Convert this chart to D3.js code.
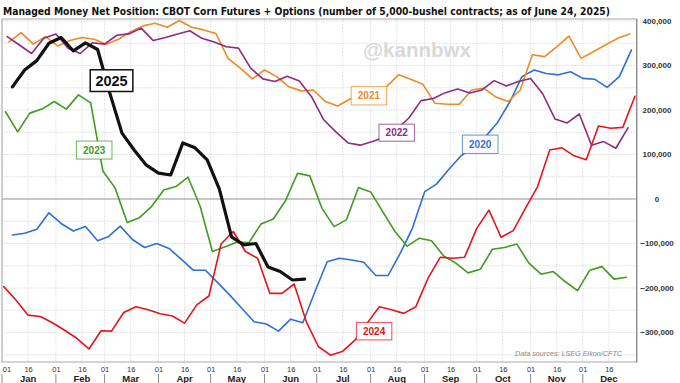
<!DOCTYPE html>
<html><head><meta charset="utf-8">
<script src="https://cdn.jsdelivr.net/npm/d3@7/dist/d3.min.js"></script>
<style>body{margin:0;background:#fff}svg{display:block}</style>
</head><body><svg id="c" width="680" height="383"></svg>
<script>
// ---------------- DATA ----------------
const seriesYears = ["2020", "2021", "2022", "2023", "2024", "2025"];
const firstWeek = ["2020-01-07", "2021-01-05", "2022-01-04", "2023-01-03", "2024-01-02", "2025-01-07"];
// weekly managed money net position, thousands of contracts
const v2020 = [-81,-77,-68,-31,-55,-72,-62,-94,-85,-61,-91,-109,-100,-111,-135,-160,-160,-188,-216,-246,-276,-281,-297,-270,-278,-208,-141,-133,-137,-142,-172,-172,-122,-66,16,34,67,97,116,140,172,218,275,290,282,279,286,271,269,251,275,335];
const v2021 = [353,374,348,365,344,356,363,359,348,359,376,389,395,386,401,386,380,372,316,294,270,290,275,252,243,245,219,209,224,233,243,252,279,269,258,215,213,213,245,249,229,219,245,324,320,342,366,316,331,346,361,371];
const v2022 = [365,346,327,361,371,339,327,351,348,368,371,384,356,363,371,378,361,353,342,339,294,270,264,276,265,230,178,151,126,121,129,139,157,182,221,226,239,247,238,245,266,254,264,271,236,180,171,191,121,129,114,160];
const v2023 = [196,151,193,202,219,202,234,216,63,25,-53,-42,-17,20,28,49,-17,-118,-108,-97,-98,-56,-45,-4,58,52,-21,-62,-47,26,16,-29,-73,-106,-88,-94,-128,-144,-166,-158,-113,-109,-101,-144,-169,-163,-186,-206,-160,-152,-180,-176];
const v2024 = [-197,-227,-261,-264,-278,-295,-313,-337,-296,-297,-255,-242,-249,-258,-263,-279,-238,-218,-101,-73,-118,-133,-212,-212,-191,-276,-332,-351,-342,-317,-279,-242,-249,-257,-242,-178,-131,-133,-131,-66,-25,-86,-71,-21,28,110,115,97,88,164,159,161,231];
const v2025 = [252,290,311,350,363,333,351,336,238,148,110,76,58,54,126,115,88,22,-85,-103,-100,-153,-163,-182,-180];
const yTicks = [400000, 300000, 200000, 100000, 0, -100000, -200000, -300000];
const monthNames = ["Jan","Feb","Mar","Apr","May","Jun","Jul","Aug","Sep","Oct","Nov","Dec"];
const dayTicks = ["01", "16"];

// ---------------- STYLE / LAYOUT ----------------
const colors = {"2020":"#2f6fd3","2021":"#f08a24","2022":"#8e2a82","2023":"#3f9c1f","2024":"#e5141b","2025":"#111111"};
const widths = {"2020":1.6,"2021":1.6,"2022":1.6,"2023":1.6,"2024":1.6,"2025":3.2};
// label anchors (date in reference year, value, box w, box h, font size)
const labelAnchor = {
  "2025": ["2025-03-05", 266000, 42.6, 21.7, 14.5],
  "2023": ["2025-02-23", 110000, 35.6, 18, 10],
  "2021": ["2025-07-31", 232000, 35.4, 18.3, 10],
  "2022": ["2025-08-16", 149000, 35.4, 17, 10],
  "2020": ["2025-10-03", 123000, 35.6, 18.3, 10],
  "2024": ["2025-08-03", -297000, 35.4, 17.5, 10]
};

const valuesByYear = {"2020":v2020,"2021":v2021,"2022":v2022,"2023":v2023,"2024":v2024,"2025":v2025};
const parse = d3.timeParse("%Y-%m-%d");
const toRef = d => new Date(2025, d.getMonth(), d.getDate());

const svg = d3.select("#c");
const pL = 2, pR = 636.7, pT = 19, pB = 362;
const x = d3.scaleTime().domain([new Date(2025,0,1), new Date(2026,0,1)]).range([pL, pR]);
const y = d3.scaleLinear().domain([-366300, 404500]).range([pB, pT]);

// grid
const g = svg.append("g");
const hGrid = d3.range(-350000, 400001, 50000);
g.selectAll(".hg").data(hGrid).join("line")
  .attr("x1", pL).attr("x2", pR)
  .attr("y1", d => y(d)).attr("y2", d => y(d))
  .attr("stroke", "#cfcfcf").attr("stroke-width", 0.8).attr("stroke-dasharray", "1.2,1.2");
const vDates = [];
monthNames.forEach((m, i) => { vDates.push(new Date(2025, i, 1)); vDates.push(new Date(2025, i, 16)); });
g.selectAll(".vg").data(vDates).join("line")
  .attr("x1", d => x(d)).attr("x2", d => x(d))
  .attr("y1", pT).attr("y2", pB)
  .attr("stroke", "#d2d2d2").attr("stroke-width", 0.8).attr("stroke-dasharray", "1.2,1.2");
// zero line
g.append("line").attr("x1", pL).attr("x2", pR).attr("y1", y(0)).attr("y2", y(0))
  .attr("stroke", "#9a9a9a").attr("stroke-width", 1);

// watermark
svg.append("text").attr("x", 363).attr("y", 56.5).text("@kannbwx")
  .attr("font-family", "Liberation Sans, Arial, sans-serif").attr("font-weight", "bold")
  .attr("font-size", 20.5).attr("fill", "#d9d9d9").attr("textLength", 108).attr("lengthAdjust", "spacingAndGlyphs");

// lines
const line = d3.line().x(d => x(d.date)).y(d => y(d.value)).curve(d3.curveLinear);
seriesYears.forEach((yr, k) => {
  const start = parse(firstWeek[k]);
  const pts = valuesByYear[yr].map((v, i) => ({date: toRef(d3.timeDay.offset(start, 7 * i)), value: v * 1000}));
  svg.append("path").datum(pts).attr("d", line)
    .attr("fill", "none").attr("stroke", colors[yr]).attr("stroke-width", widths[yr])
    .attr("stroke-linejoin", "round").attr("stroke-linecap", "round");
});

// labels
seriesYears.forEach(yr => {
  const [ds, val, w, h, fs] = labelAnchor[yr];
  const cx = x(parse(ds)), cy = y(val);
  const lg = svg.append("g");
  lg.append("rect").attr("x", cx - w/2).attr("y", cy - h/2).attr("width", w).attr("height", h)
    .attr("fill", "#fff").attr("stroke", colors[yr]).attr("stroke-width", yr === "2025" ? 1.5 : 1)
    .attr("stroke-opacity", yr === "2025" ? 1 : 0.75);
  lg.append("text").attr("x", cx).attr("y", cy).attr("dy", "0.36em").attr("text-anchor", "middle")
    .attr("font-family", "Liberation Sans, Arial, sans-serif").attr("font-weight", "bold")
    .attr("font-size", fs).attr("fill", colors[yr]).text(yr);
});

// frame
svg.append("rect").attr("x", pL).attr("y", pT).attr("width", pR - pL).attr("height", pB - pT)
  .attr("fill", "none").attr("stroke", "#a8a8a8").attr("stroke-width", 1);
svg.append("line").attr("x1", pR).attr("x2", pR).attr("y1", pT).attr("y2", pB + 0.5)
  .attr("stroke", "#8c8c8c").attr("stroke-width", 1.3);

// y axis labels (right)
svg.selectAll(".yl").data(yTicks).join("text")
  .attr("x", 657).attr("y", d => y(d)).attr("dy", "0.35em").attr("text-anchor", "middle")
  .attr("font-family", "Liberation Sans, Arial, sans-serif").attr("font-weight", "bold")
  .attr("font-size", 8).attr("fill", "#333")
  .text(d => d3.format(",")(d));

// x axis labels
const xt = [];
monthNames.forEach((m, i) => dayTicks.forEach(dt => xt.push({date: new Date(2025, i, +dt), label: dt})));
svg.selectAll(".xl").data(xt).join("text")
  .attr("x", d => Math.max(x(d.date) + 0.5, 7)).attr("y", 371.5).attr("text-anchor", "middle")
  .attr("font-family", "Liberation Sans, Arial, sans-serif").attr("font-size", 7.5).attr("fill", "#333")
  .text(d => d.label);
svg.selectAll(".ml").data(monthNames).join("text")
  .attr("x", (d, i) => x(new Date(2025, i, 16))).attr("y", 382).attr("text-anchor", "middle")
  .attr("font-family", "Liberation Sans, Arial, sans-serif").attr("font-weight", "bold")
  .attr("font-size", 9.5).attr("fill", "#222").text(d => d);
svg.selectAll(".ms").data(monthNames).join("line")
  .attr("x1", (d, i) => x(new Date(2025, i, 1))).attr("x2", (d, i) => x(new Date(2025, i, 1)))
  .attr("y1", 374).attr("y2", 383).attr("stroke", "#888").attr("stroke-width", 1);

// title: fit its natural width to the reference span
const title = svg.append("text").attr("x", 3).attr("y", 14.5)
  .attr("font-family", "Liberation Sans Narrow, Arial Narrow, DejaVu Sans Condensed, sans-serif")
  .attr("font-weight", "bold").attr("font-size", 12.5).attr("fill", "#111")
  .text("Managed Money Net Position: CBOT Corn Futures + Options (number of 5,000-bushel contracts; as of June 24, 2025)");
const tw = title.node().getComputedTextLength();
const targetW = 607;
if (tw > targetW) {
  title.attr("font-size", 12.5 * targetW / tw);
}
title.attr("textLength", targetW).attr("lengthAdjust", "spacingAndGlyphs");

// source
svg.append("text").attr("x", 515).attr("y", 356)
  .attr("font-family", "Liberation Sans, Arial, sans-serif").attr("font-style", "italic")
  .attr("font-size", 8).attr("fill", "#8a8a8a")
  .attr("textLength", 107).attr("lengthAdjust", "spacingAndGlyphs")
  .text("Data sources: LSEG Eikon/CFTC");
</script></body></html>
